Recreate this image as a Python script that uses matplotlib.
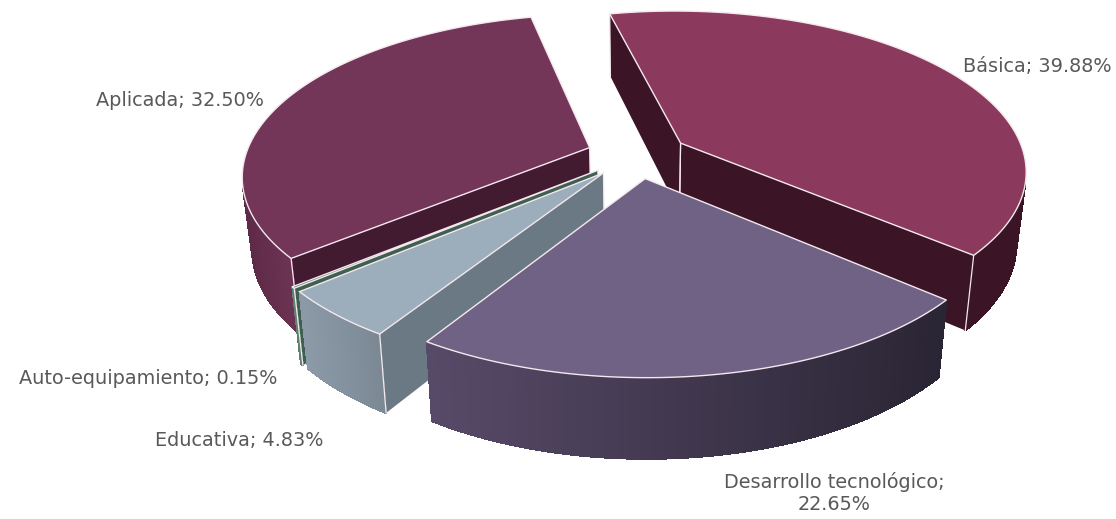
"""3D exploded pie: investment share by research type."""

import matplotlib
matplotlib.use("Agg")
import matplotlib.pyplot as plt
from matplotlib.patches import Polygon
from matplotlib.colors import to_rgb
import numpy as np

# -- Data (clockwise from the start angle) -----------------------------------
categories = ["Básica", "Desarrollo tecnológico", "Educativa", "Auto-equipamiento", "Aplicada"]
shares = [39.88, 22.65, 4.83, 0.15, 32.50]

# -- Colours -----------------------------------------------------------------
TOP_COLORS = ["#8B3A5E", "#6F6285", "#9CADBB", "#4F7562", "#733558"]
RADIAL_COLORS = ["#3B1526", "#2C2636", "#6B7984", "#3F5F50", "#431B31"]
WALL_LEFT = ["#3B1526", "#574A68", "#8C9AA8", "#5D8070", "#5E2A48"]
WALL_RIGHT = ["#3B1526", "#2A2534", "#7B8894", "#5D8070", "#6E3354"]
EDGE = "#F4E8EE"
TEXT = "#595959"

# -- Projection (fitted to the picture, in pixels) ---------------------------
CX, CY = 637.5, 155
RX, RY = 344, 157.5
PERSP = 0.165
DEPTH = 70
SHRINK = 0.975
EXPLODE = 0.148
START = -12.8


def project(X, Y, bottom=False):
    w = 1 / (1 + PERSP * Y)
    x = RX * X * w
    y = -RY * Y * w
    if bottom:
        return CX + x * SHRINK, CY + y + DEPTH * w ** 0.7
    return CX + x, CY + y


def area(pts):
    x, y = np.array(pts).T
    return np.sum(x * np.roll(y, -1) - np.roll(x, -1) * y)


fig, ax = plt.subplots(figsize=(11.16, 5.19), dpi=100)
fig.subplots_adjust(0, 0, 1, 1)
ax.set_xlim(0, 1116)
ax.set_ylim(519, 0)
ax.axis("off")

angles = np.cumsum([0] + [s / sum(shares) * 360 for s in shares]) + START

# back to front
draw_order = [0, 4, 3, 2, 1]

for layer, i in enumerate(draw_order):
    z = 2 + layer * 4
    t0, t1 = np.radians(angles[i]), np.radians(angles[i + 1])
    mid = (t0 + t1) / 2
    ex, ey = EXPLODE * np.sin(mid), EXPLODE * np.cos(mid)
    th = np.linspace(t0, t1, 160)
    X = ex + np.sin(th)
    Y = ey + np.cos(th)

    apex_t = project(ex, ey)
    apex_b = project(ex, ey, True)
    rim_t = [project(a, b) for a, b in zip(X, Y)]
    rim_b = [project(a, b, True) for a, b in zip(X, Y)]

    # radial walls
    for quad in ([apex_t, rim_t[0], rim_b[0], apex_b],
                 [rim_t[-1], apex_t, apex_b, rim_b[-1]]):
        if area(quad) < 0:
            ax.add_patch(Polygon(quad, closed=True, facecolor=RADIAL_COLORS[i],
                                 edgecolor="none", zorder=z))
            ax.plot([quad[0][0], quad[3][0]], [quad[0][1], quad[3][1]], color=EDGE, lw=0.9,
                    zorder=z + 1)
            ax.plot([quad[1][0], quad[2][0]], [quad[1][1], quad[2][1]], color=EDGE, lw=0.9,
                    zorder=z + 1)

    # outer wall, one strip per step so the shading can run left to right
    left, right = to_rgb(WALL_LEFT[i]), to_rgb(WALL_RIGHT[i])
    segs = []
    for k in range(len(th) - 1):
        quad = [rim_t[k], rim_t[k + 1], rim_b[k + 1], rim_b[k]]
        if area(quad) < 0:
            segs.append(quad)
    if segs:
        xs = np.array(segs)[:, :, 0].mean(axis=1)
        span = max(xs.max() - xs.min(), 1)
        for quad, xm in zip(segs, xs):
            f = (xm - xs.min()) / span
            col = tuple(left[c] + (right[c] - left[c]) * f for c in range(3))
            ax.add_patch(Polygon(quad, closed=True, facecolor=col, edgecolor=col, lw=0.8,
                                 antialiased=False, zorder=z))

    # top face with its light outline
    top = [apex_t] + rim_t
    ax.add_patch(Polygon(top, closed=True, facecolor=TOP_COLORS[i], edgecolor=EDGE, lw=1.0,
                         joinstyle="round", zorder=z + 2))

# -- Labels ------------------------------------------------------------------
label_pos = [(1037, 66), (834, 493), (239, 441), (148, 378), (180, 100)]
for name, share, (lx, ly) in zip(categories, shares, label_pos):
    label = f"{name}; {share:.2f}%"
    if name.startswith("Desarrollo"):
        label = f"{name};\n{share:.2f}%"
    ax.text(lx, ly, label, ha="center", va="center", fontsize=13.9, color=TEXT,
            family=["DejaVu Sans"], linespacing=1.15, zorder=60)

fig.savefig("out.png", dpi=100)
